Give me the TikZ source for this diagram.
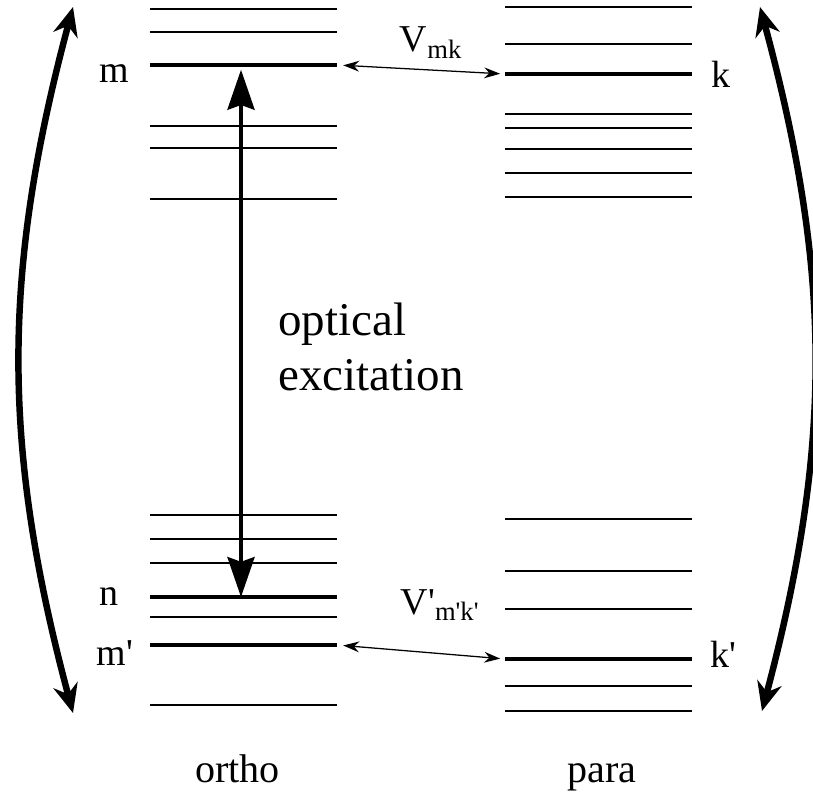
\documentclass[tikz,border=0pt]{standalone}
\usepackage{fontspec}
\setmainfont{Liberation Serif}
\usetikzlibrary{arrows.meta,calc,positioning}

\begin{document}
\begin{tikzpicture}[>=Stealth,
  lvl/.style={line width=1.1pt},
  mainlvl/.style={line width=2.2pt},
  lvllabel/.style={font=\fontsize{27}{30}\selectfont,inner sep=0pt,anchor=base},
  coupling/.style={<->,line width=.9pt,>={Stealth[length=.4cm,width=.27cm]},
    shorten <=.15cm,shorten >=.12cm},
  vlabel/.style={font=\fontsize{27}{30}\selectfont,inner sep=0pt,anchor=base},
  excite/.style={<->,line width=2.2pt,>={Stealth[length=1cm,width=.68cm,inset=.12cm]},
    shorten >=.12cm},
  bigarc/.style={<->,line width=4.6pt,>={Stealth[length=.72cm,width=.62cm]}},
  colname/.style={font=\fontsize{28.5}{32}\selectfont,inner sep=0pt,anchor=base}]
\path[use as bounding box] (0,0) rectangle (20.325,19.875);

% ortho: Niveaus links
\foreach \y in {19.65,19.075,16.725,16.175,14.9,7.0,6.4,5.8,4.45,2.25}
  \draw[lvl] (3.75,\y)--(8.43,\y);
\draw[mainlvl] (3.75,18.25) coordinate (mL) -- (8.43,18.25) coordinate (mR);
\draw[mainlvl] (3.75,4.95) coordinate (nL) -- (8.43,4.95) coordinate (nR);
\draw[mainlvl] (3.75,3.75) coordinate (mpL) -- (8.43,3.75) coordinate (mpR);

% para: Niveaus rechts
\foreach \y in {19.7,18.775,17.025,16.675,16.15,15.55,14.95,6.9,5.6,4.65,2.725,2.1}
  \draw[lvl] (12.625,\y)--(17.3,\y);
\draw[mainlvl] (12.625,18.025) coordinate (kL) -- (17.3,18.025) coordinate (kR);
\draw[mainlvl] (12.625,3.4) coordinate (kpL) -- (17.3,3.4) coordinate (kpR);

% Kopplungen
\draw[coupling] (mR) -- (kL);
\draw[coupling] (mpR) -- (kpL);
\node[vlabel] (vmk) at (10.775,18.575) {V\textsubscript{mk}};
\node[vlabel] (vmpkp) at (11.0,4.525) {V\textquotesingle\textsubscript{m\textquotesingle k\textquotesingle}};

% optische Anregung n -> m
\coordinate (nA) at (6.025,4.95);
\coordinate (mA) at (6.025,18.25);
\draw[excite] (nA) -- (mA);
\node[font=\fontsize{33.4}{39}\selectfont,inner sep=0pt,align=left] (opt) at (9.275,11.2) {optical\\excitation};

% Beschriftung der Niveaus
\node[lvllabel] (mlab) at (2.85,17.8) {m};
\node[lvllabel] (nlab) at (2.725,4.75) {n};
\node[lvllabel] (mplab) at (2.875,3.25) {m\textquotesingle};
\node[lvllabel] (klab) at (18.03,17.675) {k};
\node[lvllabel] (kplab) at (18.08,3.2) {k\textquotesingle};

% gebogene Pfeile aussen
\coordinate (ltop) at (1.825,19.7);
\coordinate (lbot) at (1.825,2.05);
\coordinate (rtop) at (19.0,19.7);
\coordinate (rbot) at (19.05,2.1);
\draw[bigarc] (ltop) to[bend right=15] (lbot);
\draw[bigarc] (rtop) to[bend left=15] (rbot);

\node[colname] (ortho) at (5.94,0.325) {ortho};
\node[colname] (para) at (15.05,0.325) {para};
\end{tikzpicture}
\end{document}
